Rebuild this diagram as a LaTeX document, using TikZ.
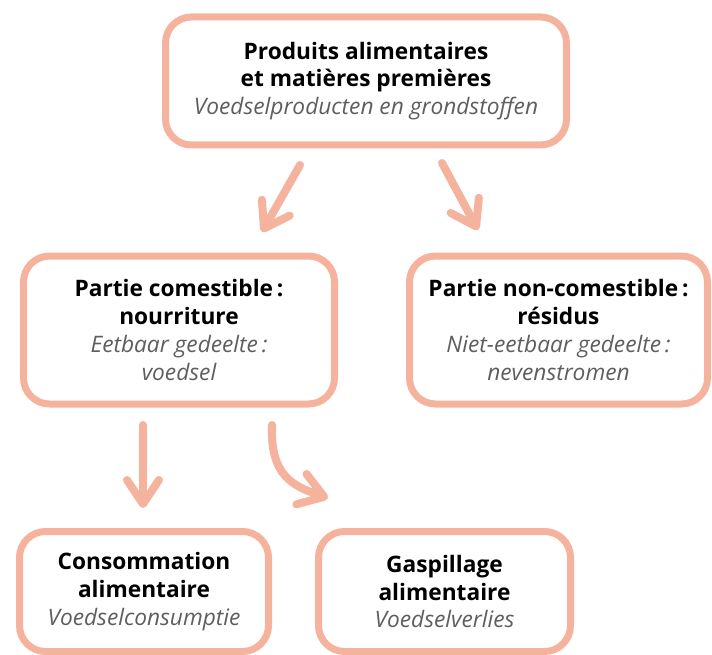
\documentclass[tikz,border=0pt]{standalone}
\usepackage{fontspec}
\setmainfont{Open Sans}
\usepackage{tikz}
\usetikzlibrary{arrows.meta,positioning}
\definecolor{salmon}{HTML}{F5B39D}
\definecolor{dutchgrey}{HTML}{5E5E5E}
\newcommand{\fr}[1]{{\bfseries\color{black}#1}}
\newcommand{\nl}[1]{{\itshape\color{dutchgrey}#1}}
\tikzset{
    block/.style={
            rectangle,
            draw=salmon,
            line width=7pt,
            rounded corners=26pt,
            align=center,
            inner sep=0pt,
            font=\fontsize{22.7}{27.8}\selectfont
        },
    connector/.style={
            draw=salmon,
            line width=8pt,
            line cap=round,
            -{Straight Barb[length=24pt,width=32pt,line cap=round,line join=round]}
        }
}
\begin{document}
\begin{tikzpicture}[x=1pt,y=-1pt]
  \useasboundingbox (0,0) rectangle (712,655);
  % boxes
  \node[block, minimum width=401pt, minimum height=128pt] (food) at (366,81)
    {\fr{Produits alimentaires}\\ \fr{et matières premières}\\ \nl{Voedselproducten en grondstoffen}};
  \node[block, minimum width=311pt, minimum height=148pt] (edible) at (179,330)
    {\fr{Partie comestible\,:}\\ \fr{nourriture}\\ \nl{Eetbaar gedeelte\,:}\\ \nl{voedsel}};
  \node[block, minimum width=298pt, minimum height=148pt] (inedible) at (558.5,330)
    {\fr{Partie non-comestible\,:}\\ \fr{résidus}\\ \nl{Niet-eetbaar gedeelte\,:}\\ \nl{nevenstromen}};
  \node[block, minimum width=249pt, minimum height=120pt] (consume) at (144,591.5)
    {\fr{Consommation}\\ \fr{alimentaire}\\ \nl{Voedselconsumptie}};
  \node[block, minimum width=252pt, minimum height=120pt] (waste) at (444.5,591.5)
    {\fr{Gaspillage}\\ \fr{alimentaire}\\ \nl{Voedselverlies}};
  % arrow ends
  \coordinate (food-l) at (300,165);
  \coordinate (edible-t) at (262,232);
  \coordinate (food-r) at (442,163);
  \coordinate (inedible-t) at (478,230);
  \coordinate (edible-l) at (143,425);
  \coordinate (consume-t) at (143,508);
  \coordinate (edible-r) at (272,425);
  \coordinate (waste-t) at (328,498);
  \draw [connector] (food-l) -- (edible-t);
  \draw [connector] (food-r) -- (inedible-t);
  \draw [connector] (edible-l) -- (consume-t);
  \draw [connector] (edible-r) .. controls +(-2,50) and +(-36,-12) .. (waste-t);
\end{tikzpicture}
\end{document}
